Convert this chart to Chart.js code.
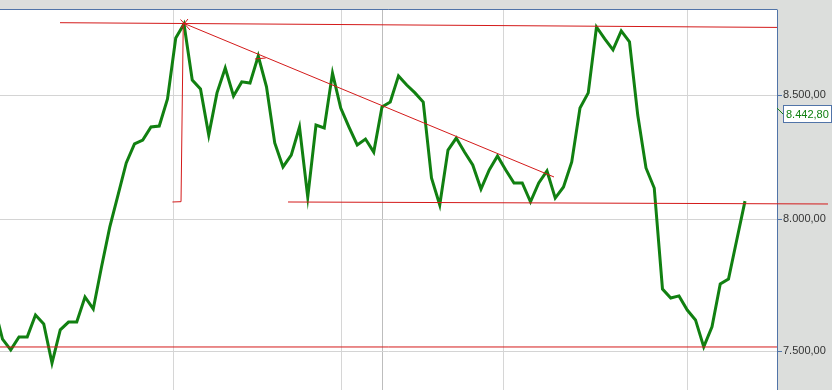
<!DOCTYPE html>
<html>
<head>
<meta charset="utf-8">
<script src="https://cdn.jsdelivr.net/npm/chart.js@4/dist/chart.umd.min.js"></script>
<style>
html,body{margin:0;padding:0;background:#dcdedc;}
#wrap{width:832px;height:390px;position:relative;}
</style>
</head>
<body>
<div id="wrap"><canvas id="c" width="832" height="390"></canvas></div>
<script>
// ---- data ----
const firstIndex = -1;
const prices = [
  7663, 7544, 7504, 7552, 7552, 7633, 7600, 7456, 7578, 7607, 7607,
  7701, 7656, 7815, 7969, 8095, 8223, 8300, 8316, 8369, 8373,
  8485, 8742, 8802, 8564, 8526, 8336, 8510, 8614, 8497, 8556,
  8551, 8665, 8535, 8304, 8207, 8255, 8369, 8087, 8377, 8365,
  8593, 8447, 8369, 8296, 8320, 8267, 8452, 8472, 8581, 8543,
  8510, 8472, 8163, 8056, 8275, 8324, 8267, 8215, 8119, 8195,
  8251, 8195, 8143, 8143, 8068, 8143, 8191, 8083, 8127, 8227,
  8447, 8510, 8789, 8738, 8691, 8772, 8725, 8418, 8203, 8123,
  7731, 7697, 7705, 7652, 7615, 7515, 7589, 7750, 7769, 7919,
  8071
];
const gridPositions = [20.7, 41.1, 46.1, 60.7, 83.05];
const yTicks = [7500, 8000, 8500];
const lastQuote = 8442.80;

// trend lines drawn by the analyst (x = bar index, y = price)
const resistanceTop = [{x: 6.97, y: 8807.5}, {x: 94.5, y: 8787.0}];
const trendDown = [{x: 21.88, y: 8806.2}, {x: 66.85, y: 8166.8}];
const dropLine = [{x: 21.91, y: 8806}, {x: 21.64, y: 8068.7}, {x: 20.6, y: 8067.5}];
const supportMid = [{x: 34.61, y: 8067.5}, {x: 100.06, y: 8059.6}];
const supportLow = [{x: -1.5, y: 7514.8}, {x: 95, y: 7514.8}];
const markA = [{x: 21.58, y: 8821.3}, {x: 22.73, y: 8776.1}];
const markB = [{x: 21.64, y: 8784.7}, {x: 22.48, y: 8823.5}];
const markC = [{x: 30.6, y: 8652.4}, {x: 31.9, y: 8656.6}];

// ---- helpers ----
function fmt(v){
  const s = v.toFixed(2).split('.');
  return s[0].replace(/\B(?=(\d{3})+(?!\d))/g, '.') + ',' + s[1];
}
const gap = {x: NaN, y: null};
const redSegments = [].concat(resistanceTop, [gap], trendDown, [gap], dropLine, [gap],
  supportLow, [gap], markA, [gap], markB, [gap], markC);
const priceData = prices.map((v, i) => ({x: firstIndex + i, y: v}));

const RED = '#d41a1a';
const GREEN = '#118011';
const BLUE = '#5174a8';

const decor = {
  id: 'decor',
  beforeDraw(chart){
    const {ctx, chartArea: a} = chart;
    ctx.save();
    ctx.fillStyle = '#dcdedc';
    ctx.fillRect(0, 0, chart.width, chart.height);
    ctx.fillStyle = '#ffffff';
    ctx.fillRect(a.left, a.top, a.right - a.left, a.bottom - a.top);
    ctx.restore();
  },
  afterDraw(chart){
    const {ctx, chartArea: a} = chart;
    const y = chart.scales.y;
    ctx.save();
    ctx.strokeStyle = BLUE;
    ctx.lineWidth = 1;
    ctx.beginPath();
    ctx.moveTo(0, a.top - 0.5);
    ctx.lineTo(a.right + 0.5, a.top - 0.5);
    ctx.stroke();
    // last quote label
    const yv = y.getPixelForValue(lastQuote);
    const by = Math.round(yv + 5);
    ctx.strokeStyle = GREEN;
    ctx.beginPath();
    ctx.moveTo(a.right, yv - 1);
    ctx.lineTo(a.right + 6, by);
    ctx.stroke();
    ctx.fillStyle = '#ffffff';
    ctx.fillRect(a.right + 6, by - 8, 48, 17);
    ctx.strokeStyle = BLUE;
    ctx.strokeRect(a.right + 6.5, by - 8.5, 48, 17);
    ctx.fillStyle = GREEN;
    ctx.font = '11px "Liberation Sans", Arial, sans-serif';
    ctx.textBaseline = 'middle';
    ctx.textAlign = 'left';
    ctx.fillText(fmt(lastQuote), a.right + 9, by + 0.5);
    ctx.restore();
  }
};

new Chart(document.getElementById('c'), {
  type: 'line',
  data: {
    datasets: [
      {data: redSegments, borderColor: RED, borderWidth: 1, pointRadius: 0, spanGaps: false, order: 1},
      {data: supportMid, borderColor: RED, borderWidth: 1, pointRadius: 0, order: 1,
        clip: {left: 0, top: 0, right: 60, bottom: 0}},
      {data: priceData, borderColor: GREEN, borderWidth: 3, pointRadius: 0, tension: 0,
        borderJoinStyle: 'miter', order: 2}
    ]
  },
  options: {
    responsive: false,
    animation: false,
    events: [],
    layout: {padding: {top: 10, left: 0, right: 0, bottom: 0}},
    plugins: {legend: {display: false}, tooltip: {enabled: false}},
    scales: {
      x: {
        type: 'linear',
        min: -0.303,
        max: 93.88,
        afterBuildTicks(s){ s.ticks = gridPositions.map(v => ({value: v})); },
        afterFit(s){ s.height = 0; s.paddingLeft = 0; s.paddingRight = 0; },
        ticks: {display: false},
        border: {display: false},
        grid: {
          drawTicks: false,
          color: ctx => ctx.index === 2 ? '#bdbdbd' : '#d6d6d6',
          lineWidth: 1
        }
      },
      y: {
        type: 'logarithmic',
        position: 'right',
        min: 7358.2,
        max: 8862.4,
        afterBuildTicks(s){ s.ticks = yTicks.map(v => ({value: v})); },
        afterFit(s){ s.width = 55; s.paddingTop = 0; s.paddingBottom = 0; },
        border: {display: true, color: BLUE, width: 1},
        grid: {color: '#d4d4d4', tickColor: BLUE, tickLength: 5, lineWidth: 1},
        ticks: {
          padding: 1,
          color: '#333333',
          font: {family: '"Liberation Sans", Arial, sans-serif', size: 11},
          callback: v => fmt(v)
        }
      }
    }
  },
  plugins: [decor]
});
</script>
</body>
</html>
